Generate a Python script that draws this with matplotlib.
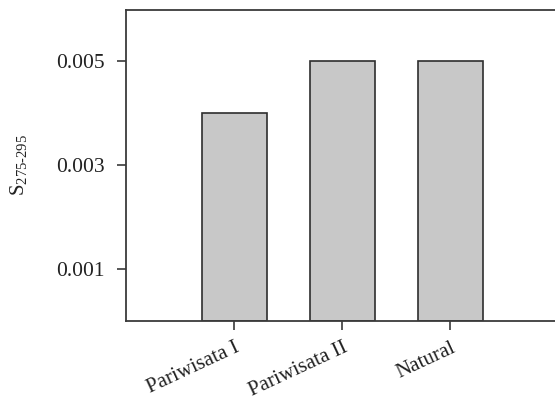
import matplotlib
matplotlib.use("Agg")
import matplotlib.pyplot as plt

plt.rcParams['font.family'] = ['Liberation Serif', 'DejaVu Serif']
plt.rcParams['mathtext.fontset'] = 'custom'
plt.rcParams['mathtext.rm'] = 'Liberation Serif'

sites = ['Pariwisata I', 'Pariwisata II', 'Natural']
s_values = [0.004, 0.005, 0.005]
y_ticks = [0.001, 0.003, 0.005]
y_tick_labels = ['0.001', '0.003', '0.005']

W, H = 555, 401
fig = plt.figure(figsize=(W / 100, H / 100), dpi=100)
# right spine falls just outside the picture, as in the original
ax = fig.add_axes([126 / W, 1 - 321 / H, (558.5 - 126) / W, (321 - 9.5) / H])

x = list(range(len(sites)))
ax.bar(x, s_values, width=0.6, color='#c8c8c8', edgecolor='#2e2e2e', linewidth=1.2, zorder=2)

ax.set_xlim(-1, 3)
ax.set_ylim(0, 0.006)
ax.set_yticks(y_ticks)
ax.set_yticklabels(y_tick_labels, fontsize=15.5, color='#222222')
ax.set_xticks(x)
ax.set_xticklabels(sites, fontsize=15, color='#222222', rotation=25, ha='right', rotation_mode='anchor')

for sp in ax.spines.values():
    sp.set_color('#3a3a3a')
    sp.set_linewidth(1.3)

ax.tick_params(direction='out', length=6.5, width=1.2, color='#3a3a3a')
ax.tick_params(axis='y', pad=9)
ax.tick_params(axis='x', pad=6)
ax.set_ylabel(r'$\mathregular{S_{275‐295}}$', fontsize=15, color='#222222', labelpad=19)

fig.savefig('out.png', dpi=100)
